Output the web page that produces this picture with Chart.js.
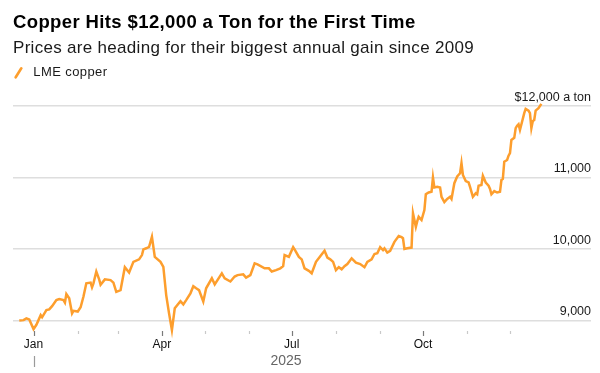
<!DOCTYPE html>
<html>
<head>
<meta charset="utf-8">
<script src="https://cdn.jsdelivr.net/npm/chart.js@4"></script>
<style>
  html, body { margin: 0; padding: 0; background: #fff; }
  body { width: 600px; height: 373px; position: relative; overflow: hidden; font-family: "Liberation Sans", Arial, sans-serif; }
  #c { position: absolute; left: 0; top: 0; }
  .hdr { position: absolute; white-space: nowrap; }
  #title { left: 13px; top: 12.6px; font-size: 18.5px; line-height: 18.5px; font-weight: bold; letter-spacing: 0.38px; color: #000; }
  #subtitle { left: 13px; top: 38.9px; font-size: 17px; line-height: 17px; letter-spacing: 0.3px; color: #1a1a1a; }
  #legend { left: 33.3px; top: 65px; font-size: 13px; line-height: 13px; letter-spacing: 0.4px; color: #1a1a1a; }
  #legicon { position: absolute; left: 14px; top: 66px; }
</style>
</head>
<body>
<canvas id="c" width="600" height="373"></canvas>
<div class="hdr" id="title">Copper Hits $12,000 a Ton for the First Time</div>
<div class="hdr" id="subtitle">Prices are heading for their biggest annual gain since 2009</div>
<svg id="legicon" width="10" height="14"><line x1="1.7" y1="11.3" x2="7.3" y2="2.3" stroke="#fd9e2d" stroke-width="2.6" stroke-linecap="round"/></svg>
<div class="hdr" id="legend">LME copper</div>
<script>
// ---- Data (days counted from 1 Jan 2025; LME copper, $ per ton) ----
const seriesName = "LME copper";
const days = [
  -10, -7, -5, -3, 0, 2, 5, 6, 9, 11, 13, 16, 18, 21, 22, 23, 25, 27, 28, 31,
  33, 35, 37, 40, 41, 42, 44, 46, 47, 50, 54, 56, 58, 61, 64, 67, 70, 74, 76, 77,
  79, 81, 83, 85, 89, 91, 93, 95, 97, 99, 103, 105, 107, 110, 112, 114, 116, 119, 121, 125,
  127, 132, 134, 138, 141, 143, 147, 149, 152, 155, 157, 162, 165, 167, 170, 173, 175, 176, 179, 182,
  183, 186, 188, 190, 193, 195, 198, 201, 204, 206, 208, 210, 212, 214, 216, 218, 220, 223, 226, 229,
  232, 234, 237, 239, 241, 243, 245, 246, 248, 250, 253, 256, 258, 259, 260, 262, 265, 266, 268, 269,
  270, 272, 274, 275, 277, 279, 280, 281, 283, 285, 286, 288, 290, 292, 293, 295, 297, 299, 300, 301,
  303, 305, 306, 308, 310, 311, 312, 314, 315, 317, 319, 320, 321, 323, 325, 327, 328, 329, 330, 332,
  333, 334, 335, 337, 338, 339, 340, 341, 344, 345, 347, 348, 349, 350, 351, 352, 354, 356
];
const prices = [
  9000, 9005, 9030, 9015, 8880, 8940, 9075, 9045, 9145, 9155, 9200, 9285, 9300, 9285, 9250, 9370, 9310, 9100, 9135, 9125,
  9185, 9335, 9520, 9530, 9465, 9520, 9685, 9575, 9500, 9575, 9565, 9530, 9400, 9425, 9745, 9670, 9820, 9855, 9915, 9995,
  10010, 10030, 10170, 9890, 9820, 9750, 9355, 9100, 8865, 9170, 9270, 9225, 9285, 9380, 9480, 9450, 9425, 9265, 9450, 9590,
  9505, 9660, 9590, 9545, 9615, 9635, 9645, 9600, 9635, 9800, 9785, 9730, 9730, 9685, 9705, 9730, 9760, 9915, 9890, 10025,
  9995, 9890, 9855, 9730, 9695, 9660, 9820, 9900, 9975, 9880, 9855, 9820, 9705, 9745, 9715, 9760, 9790, 9870, 9810, 9790,
  9745, 9820, 9855, 9930, 9940, 10025, 9985, 10010, 9950, 9975, 10100, 10180, 10165, 10150, 10000, 10010, 10020, 10500, 10310, 10390,
  10450, 10405, 10545, 10765, 10790, 10800, 11000, 10860, 10870, 10860, 10730, 10655, 10700, 10730, 10700, 10920, 11015, 11060, 11200, 11035,
  10950, 10930, 10870, 10730, 10780, 10765, 10885, 10895, 11025, 10930, 10885, 10840, 10765, 10810, 10790, 10800, 10965, 10980, 11220, 11245,
  11305, 11340, 11525, 11555, 11690, 11725, 11745, 11665, 11900, 11960, 11935, 11900, 11690, 11790, 11805, 11935, 11970, 12030
];
const monthStarts = [0, 31, 59, 90, 120, 151, 181, 212, 243, 273, 304, 334];
const monthLabels = ["Jan", "", "", "Apr", "", "", "Jul", "", "", "Oct", "", ""];
const majorMonths = [0, 3, 6, 9];
const yTicks = [9000, 10000, 11000, 12000];
const yTickLabels = ["9,000", "10,000", "11,000", "$12,000 a ton"];
const yearLabel = "2025";

// ---- Chart ----
const FONT = "'Liberation Sans', Arial, sans-serif";
const points = days.map((d, i) => ({ x: d, y: prices[i] }));

const axisDecor = {
  id: 'axisDecor',
  afterDraw(chart) {
    const ctx = chart.ctx;
    const xs = chart.scales.x;
    const bottom = chart.chartArea.bottom;
    ctx.save();
    monthStarts.forEach((d, i) => {
      const px = Math.round(xs.getPixelForValue(d)) + 0.5;
      const major = majorMonths.includes(i);
      ctx.beginPath();
      ctx.strokeStyle = major ? '#7a7a7a' : '#c9c9c9';
      ctx.lineWidth = 1.2;
      ctx.moveTo(px, bottom);
      ctx.lineTo(px, bottom + (major ? 5 : 3));
      ctx.stroke();
    });
    // year marker
    const jx = Math.round(xs.getPixelForValue(monthStarts[0])) + 0.5;
    ctx.beginPath();
    ctx.strokeStyle = '#9a9a9a';
    ctx.lineWidth = 1.2;
    ctx.moveTo(jx, bottom + 25);
    ctx.lineTo(jx, bottom + 36);
    ctx.stroke();
    // year label
    ctx.fillStyle = '#666';
    ctx.font = "14px " + FONT;
    ctx.textAlign = 'center';
    ctx.textBaseline = 'alphabetic';
    ctx.fillText(yearLabel, xs.getPixelForValue(177), bottom + 34);
    ctx.restore();
  }
};

new Chart(document.getElementById('c'), {
  type: 'line',
  data: {
    datasets: [{
      label: seriesName,
      data: points,
      borderColor: '#fd9e2d',
      borderWidth: 2.5,
      pointRadius: 0,
      tension: 0,
      fill: false,
      clip: false
    }]
  },
  options: {
    responsive: false,
    animation: false,
    devicePixelRatio: 1,
    layout: { padding: { left: 13, right: 9, top: 98.85, bottom: 21.6 } },
    plugins: { legend: { display: false }, tooltip: { enabled: false }, title: { display: false } },
    scales: {
      x: {
        type: 'linear',
        min: -14.4,
        max: 390.8,
        grid: { display: false, drawTicks: false },
        border: { display: false },
        afterBuildTicks: (s) => { s.ticks = monthStarts.map(v => ({ value: v })); },
        afterFit: (s) => { s.height = 20.4; s.paddingLeft = 0; s.paddingRight = 0; },
        ticks: {
          autoSkip: false,
          maxRotation: 0,
          padding: 6,
          color: '#111',
          font: { family: FONT, size: 12 },
          callback: (v, i) => monthLabels[i]
        }
      },
      y: {
        position: 'right',
        min: 8853,
        max: 12100,
        grid: { color: '#dedede', lineWidth: 1.5, drawTicks: false },
        border: { display: false },
        afterFit: (s) => { s.width = 0; },
        afterBuildTicks: (s) => { s.ticks = yTicks.map(v => ({ value: v })); },
        ticks: {
          mirror: true,
          padding: 0,
          labelOffset: -8.7,
          color: '#1a1a1a',
          font: { family: FONT, size: 12.5 },
          callback: (v, i) => yTickLabels[i]
        }
      }
    }
  },
  plugins: [axisDecor]
});
</script>
</body>
</html>
